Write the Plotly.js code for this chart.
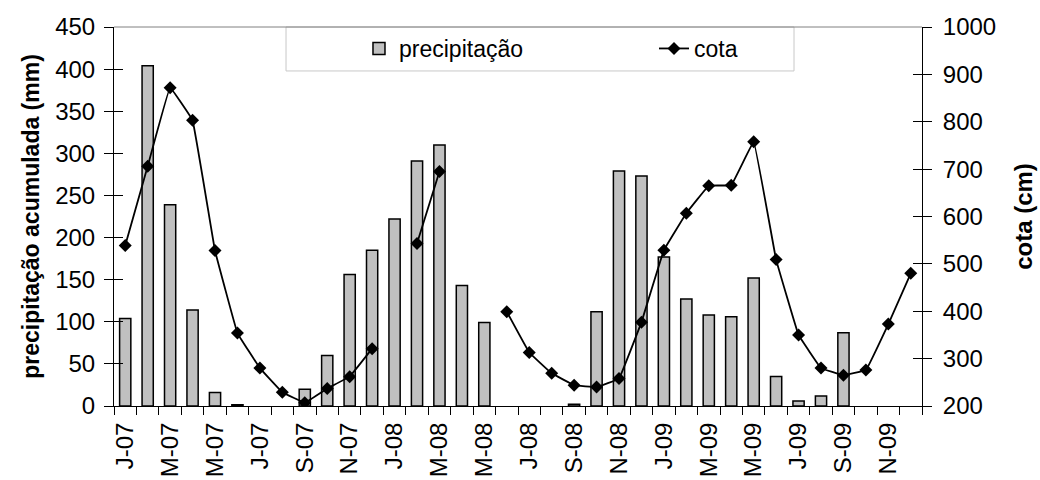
<!DOCTYPE html>
<html>
<head>
<meta charset="utf-8">
<script src="https://cdn.plot.ly/plotly-3.0.1.min.js"></script>
<style>html,body{margin:0;padding:0;background:#fff;}#chart{width:1040px;height:480px;}</style>
</head>
<body>
<div id="chart"></div>
<script>
// Months (categories)
const months = ['jan/07','fev/07','mar/07','abr/07','mai/07','jun/07','jul/07','ago/07','set/07','out/07','nov/07','dez/07',
                'jan/08','fev/08','mar/08','abr/08','mai/08','jun/08','jul/08','ago/08','set/08','out/08','nov/08','dez/08',
                'jan/09','fev/09','mar/09','abr/09','mai/09','jun/09','jul/09','ago/09','set/09','out/09','nov/09','dez/09'];
// Tick labels shown on the x axis (every other month)
const tickLabels = ['J-07','','M-07','','M-07','','J-07','','S-07','','N-07','',
                    'J-08','','M-08','','M-08','','J-08','','S-08','','N-08','',
                    'J-09','','M-09','','M-09','','J-09','','S-09','','N-09',''];
// Accumulated precipitation (mm)
const precipitacao = [104, 404, 239, 114, 16, 1.5, 0, 0, 20, 60, 156, 185,
                      222, 291, 310, 143, 99, 0, 0, 0, 2, 112, 279, 273,
                      177, 127, 108, 106, 152, 35, 6, 12, 87, 0, 0, 0];
// Water level (cm)
const cota = [539, 706, 872, 803, 528, 354, 280, 229, 207, 237, 262, 321,
              null, 543, 695, null, null, 399, 313, 269, 244, 240, 258, 377,
              529, 607, 665, 666, 758, 509, 350, 280, 265, 276, 373, 480];
const leftTicks = [0, 50, 100, 150, 200, 250, 300, 350, 400, 450];
const rightTicks = [200, 300, 400, 500, 600, 700, 800, 900, 1000];

const FONT = 'Liberation Sans, Arial, sans-serif';
const barOutline = precipitacao.map(v => (v > 0 ? 1.5 : 0));

const traces = [
  {
    type: 'bar', name: 'precipitação', x: months, y: precipitacao,
    marker: {color: '#c0c0c0', line: {color: '#000', width: barOutline}},
    yaxis: 'y', hoverinfo: 'x+y'
  },
  {
    type: 'scatter', mode: 'lines+markers', name: 'cota', x: months, y: cota,
    line: {color: '#000', width: 1.8, shape: 'spline', smoothing: 0.15},
    marker: {symbol: 'diamond', size: 10, color: '#000'},
    connectgaps: false, yaxis: 'y2'
  },
  {type: 'scatter', x: [months[0]], y: [null], yaxis: 'y3', showlegend: false, hoverinfo: 'skip'},
  {type: 'scatter', x: [months[0]], y: [null], yaxis: 'y4', showlegend: false, hoverinfo: 'skip'}
];

const layout = {
  width: 1040, height: 480,
  margin: {l: 114, r: 118, t: 27, b: 74},
  paper_bgcolor: '#fff', plot_bgcolor: '#fff',
  font: {family: FONT, size: 24, color: '#000'},
  bargap: 0.5,
  showlegend: true,
  legend: {
    orientation: 'h', x: 0.3032, xanchor: 'left', y: 1, yanchor: 'top',
    bgcolor: 'rgba(0,0,0,0)', borderwidth: 0, entrywidth: 250,
    font: {family: FONT, size: 23, color: '#000'}
  },
  xaxis: {
    type: 'category', tickvals: months, ticktext: tickLabels, tickson: 'boundaries',
    ticks: 'outside', ticklen: 8, tickcolor: '#000', tickwidth: 1, ticklabelstandoff: 6,
    tickangle: -90, showline: true, linecolor: '#000', linewidth: 1,
    showgrid: false, zeroline: false, range: [-0.5, 35.5],
    tickfont: {family: FONT, size: 24, color: '#000'}
  },
  yaxis: {
    range: [0, 450], tickvals: leftTicks, ticks: 'outside', ticklen: 9, ticklabelstandoff: 4,
    tickcolor: '#000', showline: true, linecolor: '#000', linewidth: 1,
    showgrid: false, zeroline: false,
    tickfont: {family: FONT, size: 24, color: '#000'},
    title: {text: 'precipitação acumulada (mm)', font: {family: FONT, size: 23, color: '#000', weight: 'bold'}, standoff: 9}
  },
  yaxis2: {
    range: [200, 1000], tickvals: rightTicks, overlaying: 'y', side: 'right',
    ticks: 'outside', ticklen: 9, ticklabelstandoff: 6, tickcolor: '#000', showline: true, linecolor: '#000', linewidth: 1,
    showgrid: false, zeroline: false,
    tickfont: {family: FONT, size: 24, color: '#000'},
    title: {text: 'cota (cm)', font: {family: FONT, size: 24, color: '#000', weight: 'bold'}, standoff: 20}
  },
  yaxis3: {
    range: [0, 450], tickvals: leftTicks, overlaying: 'y', side: 'left',
    ticks: 'inside', ticklen: 9, tickcolor: '#000', showticklabels: false,
    showline: false, showgrid: false, zeroline: false
  },
  yaxis4: {
    range: [200, 1000], tickvals: rightTicks, overlaying: 'y', side: 'right',
    ticks: 'inside', ticklen: 9, tickcolor: '#000', showticklabels: false,
    showline: false, showgrid: false, zeroline: false
  },
  shapes: [
    {type: 'line', xref: 'paper', yref: 'paper', x0: 0, x1: 1, y0: 1, y1: 1, line: {color: '#808080', width: 1}},
    {type: 'rect', xref: 'paper', yref: 'paper', x0: 0.2129, x1: 0.8416, y0: 1, y1: 0.884,
     fillcolor: '#fff', line: {color: '#c8c8c8', width: 1}, layer: 'below'}
  ]
};

Plotly.newPlot('chart', traces, layout, {staticPlot: true, displayModeBar: false});
</script>
</body>
</html>
